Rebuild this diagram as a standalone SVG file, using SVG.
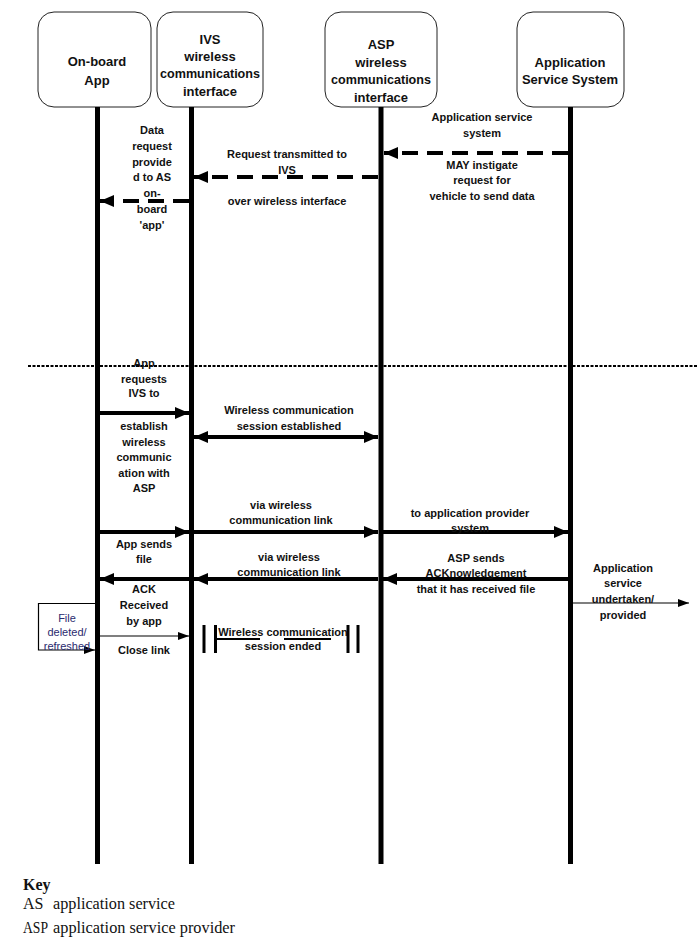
<svg xmlns="http://www.w3.org/2000/svg" width="698" height="940" viewBox="0 0 698 940">
<defs>
<style>
.box{fill:#fff;stroke:#222;stroke-width:1}
.life{stroke:#000;stroke-width:5}
.hd{font-family:"Liberation Sans",Arial,sans-serif;font-weight:bold;font-size:13px;fill:#111;text-anchor:middle}
.lb{font-family:"Liberation Sans",Arial,sans-serif;font-weight:bold;font-size:11px;fill:#111;text-anchor:middle}
.blue{font-family:"Liberation Sans",Arial,sans-serif;font-size:11px;fill:#2a2a6e;text-anchor:middle}
.key{font-family:"Liberation Serif","Times New Roman",serif;font-size:16px;fill:#111}
.thick{stroke:#000;stroke-width:4;fill:none}
.dash{stroke:#000;stroke-width:4;fill:none;stroke-dasharray:16,9}
.thin{stroke:#000;stroke-width:1.2;fill:none}
</style>
<marker id="ah" markerUnits="userSpaceOnUse" markerWidth="14" markerHeight="12" refX="14" refY="6" orient="auto-start-reverse">
<path d="M0,0 L14,6 L0,12 Z" fill="#000"/>
</marker>
<marker id="ahs" markerUnits="userSpaceOnUse" markerWidth="11" markerHeight="8" refX="11" refY="4" orient="auto">
<path d="M0,0 L11,4 L0,8 Z" fill="#000"/>
</marker>
</defs>
<rect width="698" height="940" fill="#fff"/>

<g id="app">
<rect class="box" x="38" y="12" width="113" height="95" rx="16"/>
<text class="hd" x="97" y="66">On-board</text>
<text class="hd" x="97" y="85">App</text>
<line class="life" x1="97.5" y1="107" x2="97.5" y2="864"/>
</g>
<g id="ivs">
<rect class="box" x="157" y="12" width="106" height="95" rx="16"/>
<text class="hd" x="210" y="44">IVS</text>
<text class="hd" x="210" y="61">wireless</text>
<text class="hd" x="210" y="78" textLength="100" lengthAdjust="spacingAndGlyphs">communications</text>
<text class="hd" x="210" y="96">interface</text>
<line class="life" x1="191.5" y1="107" x2="191.5" y2="864"/>
</g>
<g id="asp">
<rect class="box" x="325" y="12" width="112" height="95" rx="16"/>
<text class="hd" x="381" y="49">ASP</text>
<text class="hd" x="381" y="67">wireless</text>
<text class="hd" x="381" y="84" textLength="100" lengthAdjust="spacingAndGlyphs">communications</text>
<text class="hd" x="381" y="102">interface</text>
<line class="life" x1="381" y1="107" x2="381" y2="864"/>
</g>
<g id="ass">
<rect class="box" x="517" y="12" width="107" height="95" rx="16"/>
<text class="hd" x="570" y="67">Application</text>
<text class="hd" x="570" y="84">Service System</text>
<line class="life" x1="570.5" y1="107" x2="570.5" y2="864"/>
</g>

<g id="connectors">
<line x1="28" y1="366" x2="698" y2="366" stroke="#000" stroke-width="2" stroke-dasharray="3,1.5"/>
<line class="dash" x1="568" y1="153" x2="384" y2="153" marker-end="url(#ah)"/>
<line class="dash" x1="378" y1="177" x2="194" y2="177" marker-end="url(#ah)"/>
<line class="dash" x1="189" y1="201" x2="100" y2="201" marker-end="url(#ah)"/>
<line class="thick" x1="100" y1="413" x2="189" y2="413" marker-end="url(#ah)"/>
<line class="thick" x1="194" y1="437" x2="378" y2="437" marker-start="url(#ah)" marker-end="url(#ah)"/>
<line class="thick" x1="100" y1="532" x2="189" y2="532" marker-end="url(#ah)"/>
<line class="thick" x1="194" y1="532" x2="378" y2="532" marker-end="url(#ah)"/>
<line class="thick" x1="383" y1="532" x2="568" y2="532" marker-end="url(#ah)"/>
<line class="thick" x1="568" y1="579" x2="383" y2="579" marker-end="url(#ah)"/>
<line class="thick" x1="378" y1="579" x2="194" y2="579" marker-end="url(#ah)"/>
<line class="thick" x1="189" y1="579" x2="100" y2="579" marker-end="url(#ah)"/>
<line class="thin" x1="573" y1="603" x2="689" y2="603" marker-end="url(#ahs)"/>
<line class="thin" x1="100" y1="636" x2="189" y2="636" marker-end="url(#ahs)"/>
<path class="thin" d="M95,603.5 H38.5 V650 H95" marker-end="url(#ahs)"/>
<line x1="204" y1="625" x2="204" y2="653" stroke="#000" stroke-width="3"/>
<line x1="215.5" y1="625" x2="215.5" y2="653" stroke="#000" stroke-width="3"/>
<line x1="348" y1="625" x2="348" y2="653" stroke="#000" stroke-width="3"/>
<line x1="358" y1="625" x2="358" y2="653" stroke="#000" stroke-width="3"/>
<line x1="215" y1="639" x2="260" y2="639" stroke="#000" stroke-width="2"/>
<line x1="284" y1="639" x2="331" y2="639" stroke="#000" stroke-width="2"/>
</g>

<g id="labels">
<text class="lb"><tspan x="152" y="134">Data</tspan><tspan x="152" y="150">request</tspan><tspan x="152" y="166">provide</tspan><tspan x="152" y="181">d to AS</tspan><tspan x="152" y="197">on-</tspan><tspan x="152" y="213">board</tspan><tspan x="152" y="229">'app'</tspan></text>
<text class="lb"><tspan x="287" y="158">Request transmitted to</tspan><tspan x="287" y="174">IVS</tspan></text>
<text class="lb" x="287" y="205">over wireless interface</text>
<text class="lb"><tspan x="482" y="121">Application service</tspan><tspan x="482" y="137">system</tspan></text>
<text class="lb"><tspan x="482" y="169">MAY instigate</tspan><tspan x="482" y="184">request for</tspan><tspan x="482" y="200">vehicle to send data</tspan></text>
<text class="lb"><tspan x="144" y="367">App</tspan><tspan x="144" y="383">requests</tspan><tspan x="144" y="397">IVS to</tspan></text>
<text class="lb"><tspan x="144" y="430">establish</tspan><tspan x="144" y="446">wireless</tspan><tspan x="144" y="461">communic</tspan><tspan x="144" y="477">ation with</tspan><tspan x="144" y="492">ASP</tspan></text>
<text class="lb"><tspan x="289" y="414">Wireless communication</tspan><tspan x="289" y="430">session established</tspan></text>
<text class="lb"><tspan x="281" y="509">via wireless</tspan><tspan x="281" y="524">communication link</tspan></text>
<text class="lb"><tspan x="470" y="517">to application provider</tspan><tspan x="470" y="532">system</tspan></text>
<text class="lb"><tspan x="144" y="548">App sends</tspan><tspan x="144" y="563">file</tspan></text>
<text class="lb"><tspan x="289" y="561">via wireless</tspan><tspan x="289" y="576">communication link</tspan></text>
<text class="lb"><tspan x="476" y="562">ASP sends</tspan><tspan x="476" y="577">ACKnowledgement</tspan><tspan x="476" y="593">that it has received file</tspan></text>
<text class="lb"><tspan x="623" y="572">Application</tspan><tspan x="623" y="587">service</tspan><tspan x="623" y="603">undertaken/</tspan><tspan x="623" y="619">provided</tspan></text>
<text class="lb"><tspan x="144" y="593">ACK</tspan><tspan x="144" y="609">Received</tspan><tspan x="144" y="625">by app</tspan></text>
<text class="lb" x="144" y="654">Close link</text>
<text class="blue"><tspan x="67" y="622">File</tspan><tspan x="67" y="636">deleted/</tspan><tspan x="67" y="650">refreshed</tspan></text>
<text class="lb"><tspan x="283" y="636">Wireless communication</tspan><tspan x="283" y="650">session  ended</tspan></text>
</g>

<g id="key">
<text class="key" x="23" y="890" font-weight="bold">Key</text>
<text class="key" x="23" y="909">AS</text>
<text class="key" x="53" y="909" textLength="122" lengthAdjust="spacingAndGlyphs">application service</text>
<text class="key" x="23" y="933" textLength="25" lengthAdjust="spacingAndGlyphs">ASP</text>
<text class="key" x="53" y="933" textLength="182" lengthAdjust="spacingAndGlyphs">application service provider</text>
</g>
</svg>
